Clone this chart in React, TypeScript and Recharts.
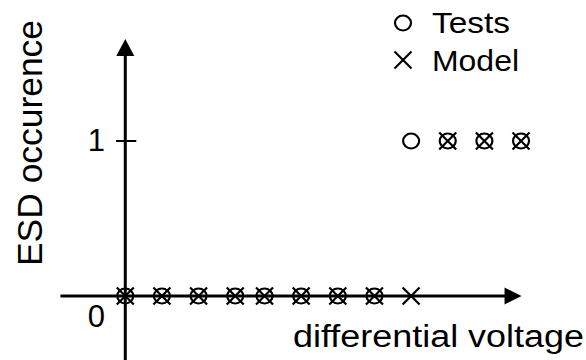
import React from 'react';
import { ScatterChart, Scatter, XAxis, YAxis, ReferenceLine, ReferenceDot } from 'recharts';

const xValues = [0, 1, 2, 3, 3.8, 4.8, 5.8, 6.8, 7.8, 8.8, 9.8, 10.8];
const testsY = [0, 0, 0, 0, 0, 0, 0, 0, 1, 1, 1, 1];
const modelY = [0, 0, 0, 0, 0, 0, 0, 0, 0, 1, 1, 1];
const yTicks = [0, 1];
const seriesNames = ['Tests', 'Model'];
const xLabel = 'differential voltage';
const yLabel = 'ESD occurence';

const testsData = xValues.map((x, i) => ({ x, y: testsY[i] }));
const modelData = xValues.map((x, i) => ({ x, y: modelY[i] }));

const FONT = '"Liberation Sans", Arial, sans-serif';

const CircleShape = (p: any) => (
  <ellipse cx={p.cx} cy={p.cy} rx={8} ry={7.5} fill="none" stroke="#000" strokeWidth={2.2} />
);
const CrossShape = (p: any) => {
  const s = 8.5;
  return (
    <g stroke="#000" strokeWidth={2.2}>
      <line x1={p.cx - s} y1={p.cy - s} x2={p.cx + s} y2={p.cy + s} />
      <line x1={p.cx - s} y1={p.cy + s} x2={p.cx + s} y2={p.cy - s} />
    </g>
  );
};

const renderTick = (p: any) => {
  const v = p.payload.value;
  return (
    <text
      x={p.x + 53}
      y={v === 1 ? p.y + 10 : p.y + 31}
      textAnchor="end"
      fontFamily={FONT}
      fontSize={31}
      fill="#000"
    >
      {String(v)}
    </text>
  );
};

export default function App() {
  return (
    <div style={{ position: 'absolute', left: 0, top: 0, background: '#fff' }}>
      <ScatterChart width={586} height={360} margin={{ top: 17, right: 21, bottom: 2, left: 0 }}>
        <XAxis type="number" dataKey="x" domain={[-2, 12]} hide />
        <YAxis
          type="number"
          dataKey="y"
          domain={[-0.4, 1.8]}
          ticks={yTicks}
          width={52}
          axisLine={false}
          tickLine={false}
          tickSize={0}
          tickMargin={0}
          tick={renderTick}
        />
        <ReferenceLine
          segment={[{ x: -1.77, y: 0 }, { x: 10.4, y: 0 }]}
          stroke="#000"
          strokeWidth={3}
          ifOverflow="visible"
        />
        <ReferenceLine
          segment={[{ x: 0, y: -0.45 }, { x: 0, y: 1.55 }]}
          stroke="#000"
          strokeWidth={3}
          ifOverflow="visible"
        />
        <ReferenceLine
          segment={[{ x: -0.25, y: 1 }, { x: 0.3, y: 1 }]}
          stroke="#000"
          strokeWidth={2}
          ifOverflow="visible"
        />
        <ReferenceDot
          x={10.35}
          y={0}
          ifOverflow="visible"
          shape={(p: any) => (
            <polygon points={`${p.cx},${p.cy - 8.5} ${p.cx},${p.cy + 8.5} ${p.cx + 17},${p.cy}`} fill="#000" />
          )}
        />
        <ReferenceDot
          x={0}
          y={1.548}
          ifOverflow="visible"
          shape={(p: any) => (
            <polygon points={`${p.cx - 9},${p.cy} ${p.cx + 9},${p.cy} ${p.cx},${p.cy - 17}`} fill="#000" />
          )}
        />
        <Scatter name={seriesNames[0]} data={testsData} shape={CircleShape} isAnimationActive={false} />
        <Scatter name={seriesNames[1]} data={modelData} shape={CrossShape} isAnimationActive={false} />
        <text
          x={293}
          y={347}
          fontFamily={FONT}
          fontSize={31}
          fill="#000"
          textLength={291}
          lengthAdjust="spacingAndGlyphs"
        >
          {xLabel}
        </text>
        <text
          transform="translate(42,266) rotate(-90)"
          x={0}
          y={0}
          fontFamily={FONT}
          fontSize={35}
          fill="#000"
          textLength={246}
          lengthAdjust="spacingAndGlyphs"
        >
          {yLabel}
        </text>
        <CircleShape cx={403} cy={23} />
        <CrossShape cx={403} cy={60} />
        <text x={432} y={33} fontFamily={FONT} fontSize={29} fill="#000" textLength={78} lengthAdjust="spacingAndGlyphs">
          {seriesNames[0]}
        </text>
        <text x={432} y={71} fontFamily={FONT} fontSize={29} fill="#000" textLength={87} lengthAdjust="spacingAndGlyphs">
          {seriesNames[1]}
        </text>
      </ScatterChart>
    </div>
  );
}
